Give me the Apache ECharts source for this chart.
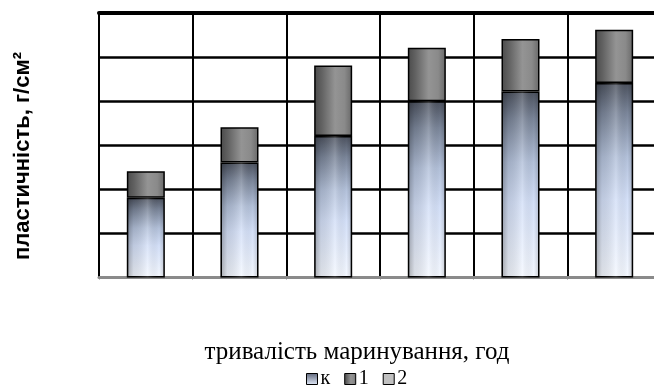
<!DOCTYPE html>
<html>
<head>
<meta charset="utf-8">
<script src="https://cdn.jsdelivr.net/npm/echarts@6/dist/echarts.min.js"></script>
<style>
  html, body { margin: 0; padding: 0; background: #fff; overflow: hidden; }
  #chart { width: 672px; height: 387px; }
</style>
</head>
<body>
<div id="chart"></div>
<script>
// Marinating duration groups (no tick labels shown on the axis)
const categories = ['1', '2', '3', '4', '5', '6'];
// Stacked plasticity components, in grid units
const seriesK = [1.81, 2.61, 3.21, 4.00, 4.22, 4.41];
const series1 = [0.60, 0.80, 1.60, 1.21, 1.19, 1.21];
const series2 = [0, 0, 0, 0, 0, 0];
const legendNames = ['к', '1', '2'];
const xTitle = 'тривалість маринування, год';
const yTitle = 'пластичність, г/см²';

const chart = echarts.init(document.getElementById('chart'), null, { renderer: 'canvas' });

const grad = (x2, y2, stops) => new echarts.graphic.LinearGradient(0, 0, x2, y2,
  stops.map(([offset, color]) => ({ offset, color })));

// cylinder-like shading: vertical tint for "к", horizontal sheen on top of it
const kFill = grad(0, 1, [[0, '#4c525f'], [0.15, '#7a8599'], [0.38, '#b3c1da'], [0.6, '#d4e0f8'], [1, '#f4f8ff']]);
const kShade = grad(1, 0, [[0, 'rgba(0,0,0,0.32)'], [0.18, 'rgba(0,0,0,0.1)'], [0.55, 'rgba(255,255,255,0.18)'], [0.85, 'rgba(0,0,0,0)'], [1, 'rgba(0,0,0,0.18)']]);
const oneFill = grad(1, 0, [[0, '#4a4a4a'], [0.2, '#626262'], [0.55, '#949494'], [0.8, '#8a8a8a'], [1, '#686868']]);
const kIcon = grad(0, 1, [[0, '#5c6478'], [1, '#e4ecfb']]);

const barW = 38;

chart.setOption({
  animation: false,
  backgroundColor: '#ffffff',
  grid: { left: 99, top: 13, height: 264.5, width: 562 },
  xAxis: [{
    type: 'category',
    data: categories,
    boundaryGap: true,
    axisLine: { lineStyle: { color: '#8a8a8a', width: 3 } },
    axisTick: { show: true, length: 2, lineStyle: { color: '#8a8a8a' } },
    axisLabel: { show: false },
    splitLine: { show: true, lineStyle: { color: '#000', width: 2 } },
    z: 3
  }, {
    type: 'category',
    position: 'top',
    data: categories,
    axisLine: { lineStyle: { color: '#000', width: 4 } },
    axisTick: { show: false },
    axisLabel: { show: false },
    splitLine: { show: false }
  }],
  yAxis: {
    type: 'value',
    min: 0,
    max: 6,
    interval: 1,
    axisLine: { show: false },
    axisTick: { show: false },
    axisLabel: { show: false },
    splitLine: { show: true, lineStyle: { color: '#000', width: 2.5 } }
  },
  legend: {
    data: [
      { name: 'к', icon: 'rect', itemStyle: { color: kIcon } },
      { name: '1', icon: 'rect' },
      { name: '2', icon: 'rect' }
    ],
    left: 301,
    top: 364,
    itemWidth: 11,
    itemHeight: 11,
    itemGap: 14,
    itemStyle: { borderColor: '#000', borderWidth: 1 },
    textStyle: { fontFamily: 'Liberation Serif', fontSize: 20, color: '#000', padding: [0, 0, 0, -2] }
  },
  title: {
    text: xTitle,
    left: 352,
    top: 335,
    textAlign: 'center',
    textStyle: { fontFamily: 'Liberation Serif', fontSize: 25, fontWeight: 'normal', color: '#000' }
  },
  graphic: [{
    type: 'text',
    x: 23,
    y: 156,
    rotation: Math.PI / 2,
    style: {
      text: yTitle,
      font: 'bold 22px "Liberation Sans"',
      fill: '#000',
      align: 'center',
      verticalAlign: 'middle'
    }
  }],
  series: [{
    name: 'к',
    type: 'bar',
    stack: 'total',
    barWidth: barW,
    barGap: '-100%',
    data: seriesK,
    itemStyle: { color: kFill, borderColor: '#000', borderWidth: 1.5 },
    z: 4
  }, {
    name: '1',
    type: 'bar',
    stack: 'total',
    barWidth: barW,
    data: series1,
    itemStyle: { color: oneFill, borderColor: '#000', borderWidth: 1.5 },
    z: 4
  }, {
    name: '2',
    type: 'bar',
    stack: 'total',
    barWidth: barW,
    data: series2,
    itemStyle: { color: '#c0c0c0', borderWidth: 0 },
    z: 4
  }, {
    name: 'к-shade',
    type: 'bar',
    stack: 'shade',
    barWidth: barW,
    barGap: '-100%',
    data: seriesK,
    itemStyle: { color: kShade },
    silent: true,
    z: 5
  }]
});
</script>
</body>
</html>
